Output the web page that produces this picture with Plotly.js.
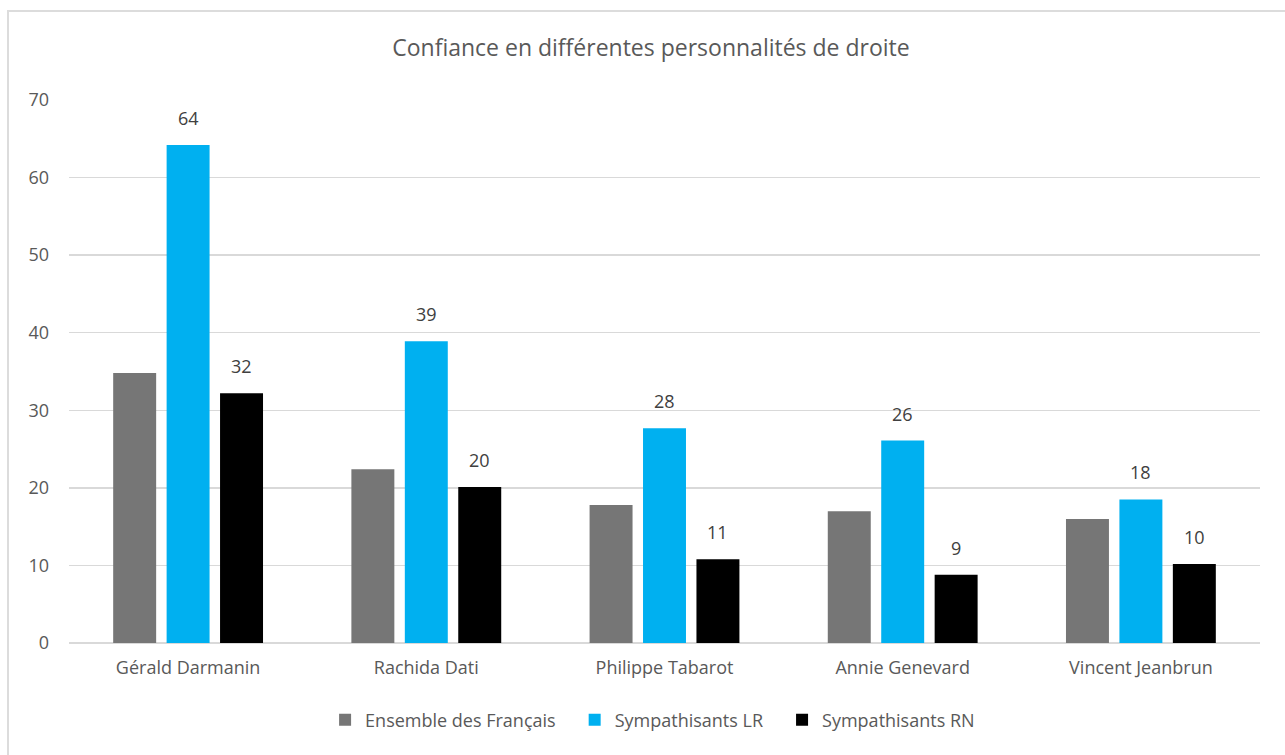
<!DOCTYPE html>
<html>
<head>
<meta charset="utf-8">
<script src="https://cdn.plot.ly/plotly-3.0.1.min.js"></script>
<style>
html,body{margin:0;padding:0;background:#fff;}
#wrap{position:relative;width:1285px;height:755px;overflow:hidden;}
#chart{position:absolute;left:0;top:0;width:1285px;height:755px;}
#frame{position:absolute;left:7px;top:10px;width:1300px;height:800px;border-left:2px solid #dcdcdc;border-top:2px solid #dcdcdc;pointer-events:none;}
</style>
</head>
<body>
<div id="wrap"><div id="chart"></div><div id="frame"></div></div>
<script>
const categories = ["Gérald Darmanin", "Rachida Dati", "Philippe Tabarot", "Annie Genevard", "Vincent Jeanbrun"];
const seriesNames = ["Ensemble des Français", "Sympathisants LR", "Sympathisants RN"];
const ensemble = [34.8, 22.4, 17.8, 17.0, 16.0];
const sympLR = [64.2, 38.9, 27.7, 26.1, 18.5];
const sympRN = [32.2, 20.1, 10.8, 8.8, 10.2];
const labelsLR = ["64", "39", "28", "26", "18"];
const labelsRN = ["32", "20", "11", "9", "10"];
const colors = ["#767676", "#00B0F0", "#000000"];

const FONT = "Open Sans, Liberation Sans, Arial, sans-serif";
const TXT = "#595959";
const FS = 18;
const PAD = "\u00a0\u00a0\u00a0";

const bargap = 0.327;
const slot = (1 - bargap) / 3;

const traces = [ensemble, sympLR, sympRN].map((vals, k) => ({
  type: "bar",
  name: seriesNames[k] + (k < 2 ? PAD : ""),
  x: categories,
  y: vals,
  marker: {color: colors[k]},
  hoverinfo: "x+y+name"
}));

const annotations = [];
categories.forEach((c, i) => {
  annotations.push({x: i, y: sympLR[i], xref: "x", yref: "y", text: labelsLR[i], showarrow: false,
    yanchor: "bottom", yshift: 13, font: {family: FONT, size: FS, color: "#404040"}});
  annotations.push({x: i + slot, y: sympRN[i], xref: "x", yref: "y", text: labelsRN[i], showarrow: false,
    yanchor: "bottom", yshift: 13, font: {family: FONT, size: FS, color: "#404040"}});
});

const layout = {
  width: 1285, height: 755,
  margin: {l: 69, r: 25, t: 100, b: 112},
  paper_bgcolor: "rgba(0,0,0,0)",
  plot_bgcolor: "rgba(0,0,0,0)",
  font: {family: FONT, size: FS, color: TXT},
  title: {text: "Confiance en différentes personnalités de droite", font: {family: FONT, size: 23, color: TXT},
    xref: "container", x: 0.5066, xanchor: "center", yref: "container", y: 0.936, yanchor: "middle"},
  barmode: "group",
  bargap: bargap,
  bargroupgap: 0.196,
  xaxis: {type: "category", showgrid: false, showline: false, ticks: "", tickfont: {family: FONT, size: FS, color: TXT}, ticklabelstandoff: 12},
  yaxis: {range: [0, 70], dtick: 10, showgrid: true, gridcolor: "#d9d9d9", gridwidth: 1.5, zeroline: true, zerolinecolor: "#d9d9d9", zerolinewidth: 1.5,
    showline: false, ticks: "", tickfont: {family: FONT, size: FS, color: TXT}, ticklabelstandoff: 19},
  showlegend: true,
  legend: {orientation: "h", x: 0.49, xanchor: "center", y: -0.142, yanchor: "middle", font: {family: FONT, size: FS, color: TXT}, traceorder: "normal"},
  annotations: annotations
};

Plotly.newPlot("chart", traces, layout, {displayModeBar: false, staticPlot: true});
</script>
</body>
</html>
